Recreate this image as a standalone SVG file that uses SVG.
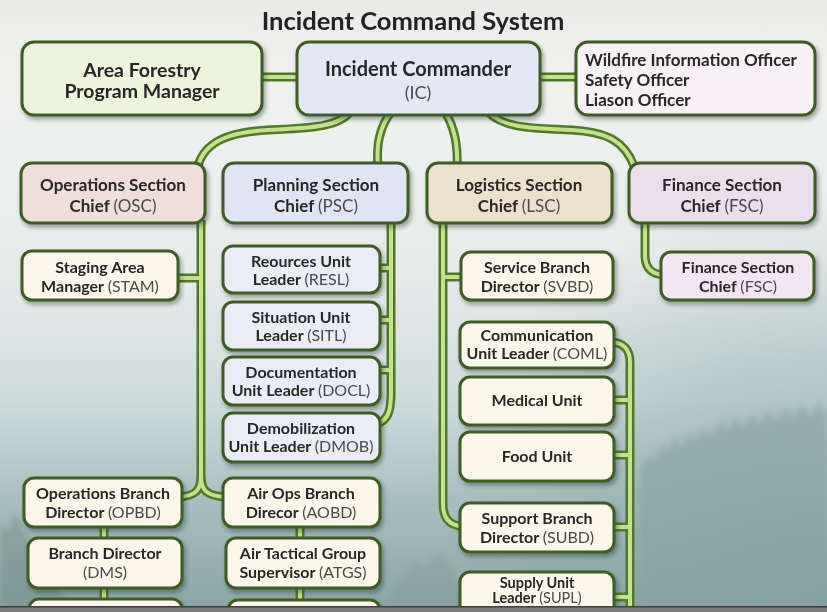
<svg xmlns="http://www.w3.org/2000/svg" xmlns:xlink="http://www.w3.org/1999/xlink" width="827" height="612" viewBox="0 0 827 612">
<defs>
<linearGradient id="bg" x1="0" y1="0" x2="0" y2="1">
<stop offset="0" stop-color="#e9eae8"/>
<stop offset="0.12" stop-color="#f1f2f0"/>
<stop offset="0.45" stop-color="#e6ebea"/>
<stop offset="0.65" stop-color="#cfdcdc"/>
<stop offset="0.82" stop-color="#a8bfbf"/>
<stop offset="1" stop-color="#88a4a4"/>
</linearGradient>
<radialGradient id="rt" cx="827" cy="612" r="420" gradientUnits="userSpaceOnUse">
<stop offset="0" stop-color="#7e9c9c" stop-opacity="0.7"/>
<stop offset="0.6" stop-color="#8aa6a6" stop-opacity="0.35"/>
<stop offset="1" stop-color="#9db5b5" stop-opacity="0"/>
</radialGradient>
<filter id="blur" x="-10%" y="-10%" width="120%" height="120%"><feGaussianBlur stdDeviation="3"/></filter>
<filter id="sh" x="-10%" y="-10%" width="125%" height="135%"><feDropShadow dx="2" dy="3" stdDeviation="2" flood-color="#1c2a14" flood-opacity="0.4"/></filter>
<path id="c1" d="M258,77 H301"/>
<path id="c2" d="M536,77 H579"/>
<path id="c3" d="M350,112 C338,128 305,128 268,130 C232,132 205,140 198,166"/>
<path id="c4" d="M391,112 C379,128 376,146 378,166"/>
<path id="c5" d="M445,112 C455,128 458,146 457,166"/>
<path id="c6" d="M488,112 C505,130 540,128 572,130 C608,132 625,142 634,166"/>
<path id="c7" d="M201,220 V476 C201,490 196,496 178,497"/>
<path id="c8" d="M201,476 C201,490 206,496 226,497"/>
<path id="c9" d="M176,278 H201"/>
<path id="c10" d="M391,220 V393 C391,411 388,421 376,424"/>
<path id="c11" d="M376,268 H391"/>
<path id="c12" d="M376,320 H391"/>
<path id="c13" d="M376,370 H391"/>
<path id="c14" d="M104,524 V542"/>
<path id="c15" d="M300,524 V542"/>
<path id="c16" d="M104,585 V603"/>
<path id="c17" d="M300,585 V603"/>
<path id="c18" d="M443,220 V503 C443,518 448,525 464,527"/>
<path id="c19" d="M443,277 H464"/>
<path id="c20" d="M610,342 C624,342 630,350 630,362 V612"/>
<path id="c21" d="M610,400 H630"/>
<path id="c22" d="M610,455 H630"/>
<path id="c23" d="M610,527 H630"/>
<path id="c24" d="M610,597 H630"/>
<path id="c25" d="M645,220 V255 C645,267 650,274 664,275"/>
</defs>
<style>
.po { fill: none; stroke: #4e7a2a; stroke-width: 9; }
.pi { fill: none; stroke: #c6e08f; stroke-width: 4; }
.box { stroke: #3f5c26; stroke-width: 3; filter: url(#sh); }
.f-green { fill: #eef3dc; }
.f-blue { fill: #e3e9f4; }
.f-pink { fill: #f8f1f6; }
.f-rose { fill: #efdeda; }
.f-peri { fill: #e1e5f3; }
.f-beige { fill: #ece1cd; }
.f-lav { fill: #ecdfec; }
.f-lav2 { fill: #f1e6f2; }
.f-cream { fill: #fbf7ea; }
.f-ice { fill: #eaedf6; }
text { font-family: Lato, "Open Sans", "Liberation Sans", sans-serif; font-weight: 700; fill: #272727; text-anchor: middle; }
.lg { font-size: 19.5px; }
.ic { font-size: 20px; }
.ic2 { font-size: 18px; }
.wi { font-size: 17px; }
.md { font-size: 17px; }
.sm { font-size: 16px; }
.xs { font-size: 14.5px; }
.ti { font-size: 25.5px; fill: #222; }
.lft { text-anchor: start; }
.ab { font-weight: 400; fill: #4a4a4a; }
</style>
<rect width="827" height="612" fill="url(#bg)"/>
<rect width="827" height="612" fill="url(#rt)"/>
<g filter="url(#blur)">
<path fill="#86a3a1" opacity="0.6" d="M640,612 L640,470 L650,455 L655,462 L662,445 L668,452 L675,438 L682,447 L690,432 L697,440 L705,428 L712,436 L720,422 L728,430 L735,418 L743,427 L752,414 L760,424 L768,410 L776,420 L785,408 L793,418 L802,405 L810,416 L818,404 L827,412 L827,612 Z"/>
<path fill="#6f8e86" opacity="0.5" d="M0,612 L0,520 L8,532 L15,512 L22,528 L30,540 L42,560 L55,576 L70,612 Z"/>
<path fill="#7f9c97" opacity="0.4" d="M390,612 L395,585 L405,575 L415,560 L425,568 L440,552 L455,575 L470,612 Z"/>
</g>
<text class="ti" x="413" y="30">Incident Command System</text>
<g id="connectors">
<g class="po">
<use xlink:href="#c1"/><use xlink:href="#c2"/><use xlink:href="#c3"/><use xlink:href="#c4"/><use xlink:href="#c5"/><use xlink:href="#c6"/><use xlink:href="#c7"/><use xlink:href="#c8"/><use xlink:href="#c9"/><use xlink:href="#c10"/><use xlink:href="#c11"/><use xlink:href="#c12"/><use xlink:href="#c13"/><use xlink:href="#c14"/><use xlink:href="#c15"/><use xlink:href="#c16"/><use xlink:href="#c17"/><use xlink:href="#c18"/><use xlink:href="#c19"/><use xlink:href="#c20"/><use xlink:href="#c21"/><use xlink:href="#c22"/><use xlink:href="#c23"/><use xlink:href="#c24"/><use xlink:href="#c25"/>
</g>
<g class="pi">
<use xlink:href="#c1"/><use xlink:href="#c2"/><use xlink:href="#c3"/><use xlink:href="#c4"/><use xlink:href="#c5"/><use xlink:href="#c6"/><use xlink:href="#c7"/><use xlink:href="#c8"/><use xlink:href="#c9"/><use xlink:href="#c10"/><use xlink:href="#c11"/><use xlink:href="#c12"/><use xlink:href="#c13"/><use xlink:href="#c14"/><use xlink:href="#c15"/><use xlink:href="#c16"/><use xlink:href="#c17"/><use xlink:href="#c18"/><use xlink:href="#c19"/><use xlink:href="#c20"/><use xlink:href="#c21"/><use xlink:href="#c22"/><use xlink:href="#c23"/><use xlink:href="#c24"/><use xlink:href="#c25"/>
</g>
</g>
<g id="n-afpm"><rect class="box f-green" x="22" y="42" width="240" height="73" rx="12"/>
<text class="lg" x="142" y="77">Area Forestry</text><text class="lg" x="142" y="98">Program Manager</text></g>
<g id="n-ic"><rect class="box f-blue" x="297" y="42" width="243" height="73" rx="12"/>
<text class="ic" x="418" y="76">Incident Commander</text><text class="ic2 ab" x="418" y="99">(IC)</text></g>
<g id="n-wio"><rect class="box f-pink" x="576" y="42" width="239" height="73" rx="12"/>
<text class="wi lft" x="585" y="66">Wildfire Information Officer</text>
<text class="wi lft" x="585" y="86">Safety Officer</text>
<text class="wi lft" x="585" y="106">Liason Officer</text></g>
<g id="n-osc"><rect class="box f-rose" x="21" y="163" width="184" height="60" rx="11"/>
<text class="md" x="113" y="191">Operations Section</text><text class="md" x="113" y="212">Chief <tspan class="ab">(OSC)</tspan></text></g>
<g id="n-psc"><rect class="box f-peri" x="223" y="163" width="185" height="60" rx="11"/>
<text class="md" x="316" y="191">Planning Section</text><text class="md" x="316" y="212">Chief <tspan class="ab">(PSC)</tspan></text></g>
<g id="n-lsc"><rect class="box f-beige" x="427" y="163" width="185" height="60" rx="11"/>
<text class="md" x="519" y="191">Logistics Section</text><text class="md" x="519" y="212">Chief <tspan class="ab">(LSC)</tspan></text></g>
<g id="n-fsc"><rect class="box f-lav" x="629" y="163" width="186" height="60" rx="11"/>
<text class="md" x="722" y="191">Finance Section</text><text class="md" x="722" y="212">Chief <tspan class="ab">(FSC)</tspan></text></g>
<g id="n-stam"><rect class="box f-cream" x="22" y="251" width="156" height="49" rx="10"/>
<text class="sm" x="100" y="273">Staging Area</text><text class="sm" x="100" y="292">Manager <tspan class="ab">(STAM)</tspan></text></g>
<g id="n-resl"><rect class="box f-ice" x="223" y="246" width="157" height="47" rx="10"/>
<text class="sm" x="301" y="267">Reources Unit</text><text class="sm" x="301" y="285">Leader <tspan class="ab">(RESL)</tspan></text></g>
<g id="n-sitl"><rect class="box f-ice" x="223" y="302" width="157" height="48" rx="10"/>
<text class="sm" x="301" y="323">Situation Unit</text><text class="sm" x="301" y="341">Leader <tspan class="ab">(SITL)</tspan></text></g>
<g id="n-docl"><rect class="box f-ice" x="223" y="357" width="157" height="48" rx="10"/>
<text class="sm" x="301" y="378">Documentation</text><text class="sm" x="301" y="396">Unit Leader <tspan class="ab">(DOCL)</tspan></text></g>
<g id="n-dmob"><rect class="box f-ice" x="223" y="413" width="157" height="49" rx="10"/>
<text class="sm" x="301" y="434">Demobilization</text><text class="sm" x="301" y="452">Unit Leader <tspan class="ab">(DMOB)</tspan></text></g>
<g id="n-opbd"><rect class="box f-cream" x="24" y="478" width="158" height="49" rx="10"/>
<text class="sm" x="103" y="499">Operations Branch</text><text class="sm" x="103" y="518">Director <tspan class="ab">(OPBD)</tspan></text></g>
<g id="n-aobd"><rect class="box f-cream" x="223" y="478" width="157" height="49" rx="10"/>
<text class="sm" x="301" y="499">Air Ops Branch</text><text class="sm" x="301" y="518">Direcor <tspan class="ab">(AOBD)</tspan></text></g>
<g id="n-dms"><rect class="box f-cream" x="28" y="538" width="154" height="50" rx="10"/>
<text class="sm" x="105" y="559">Branch Director</text><text class="sm ab" x="105" y="578">(DMS)</text></g>
<g id="n-atgs"><rect class="box f-cream" x="226" y="538" width="154" height="50" rx="10"/>
<text class="sm" x="303" y="559">Air Tactical Group</text><text class="sm" x="303" y="578">Supervisor <tspan class="ab">(ATGS)</tspan></text></g>
<g id="n-opb3"><rect class="box f-cream" x="29" y="599" width="153" height="40" rx="10"/></g>
<g id="n-air3"><rect class="box f-cream" x="228" y="600" width="152" height="40" rx="10"/></g>
<g id="n-svbd"><rect class="box f-cream" x="461" y="252" width="152" height="48" rx="10"/>
<text class="sm" x="537" y="273">Service Branch</text><text class="sm" x="537" y="292">Director <tspan class="ab">(SVBD)</tspan></text></g>
<g id="n-coml"><rect class="box f-cream" x="460" y="322" width="154" height="46" rx="10"/>
<text class="sm" x="537" y="341">Communication</text><text class="sm" x="537" y="359">Unit Leader <tspan class="ab">(COML)</tspan></text></g>
<g id="n-med"><rect class="box f-cream" x="460" y="377" width="154" height="48" rx="10"/>
<text class="sm" x="537" y="406">Medical Unit</text></g>
<g id="n-food"><rect class="box f-cream" x="460" y="432" width="154" height="49" rx="10"/>
<text class="sm" x="537" y="462">Food Unit</text></g>
<g id="n-subd"><rect class="box f-cream" x="460" y="503" width="154" height="49" rx="10"/>
<text class="sm" x="537" y="524">Support Branch</text><text class="sm" x="537" y="543">Director <tspan class="ab">(SUBD)</tspan></text></g>
<g id="n-supl"><rect class="box f-cream" x="460" y="572" width="154" height="60" rx="10"/>
<text class="xs" x="537" y="588">Supply Unit</text><text class="xs" x="537" y="603">Leader <tspan class="ab">(SUPL)</tspan></text></g>
<g id="n-fsc2"><rect class="box f-lav2" x="661" y="252" width="153" height="48" rx="10"/>
<text class="sm" x="738" y="273">Finance Section</text><text class="sm" x="738" y="292">Chief <tspan class="ab">(FSC)</tspan></text></g>
<rect x="0" y="607" width="827" height="5" fill="#7b7b7b"/>
<rect x="0" y="606" width="827" height="1.5" fill="#3e3e3e"/>
</svg>
